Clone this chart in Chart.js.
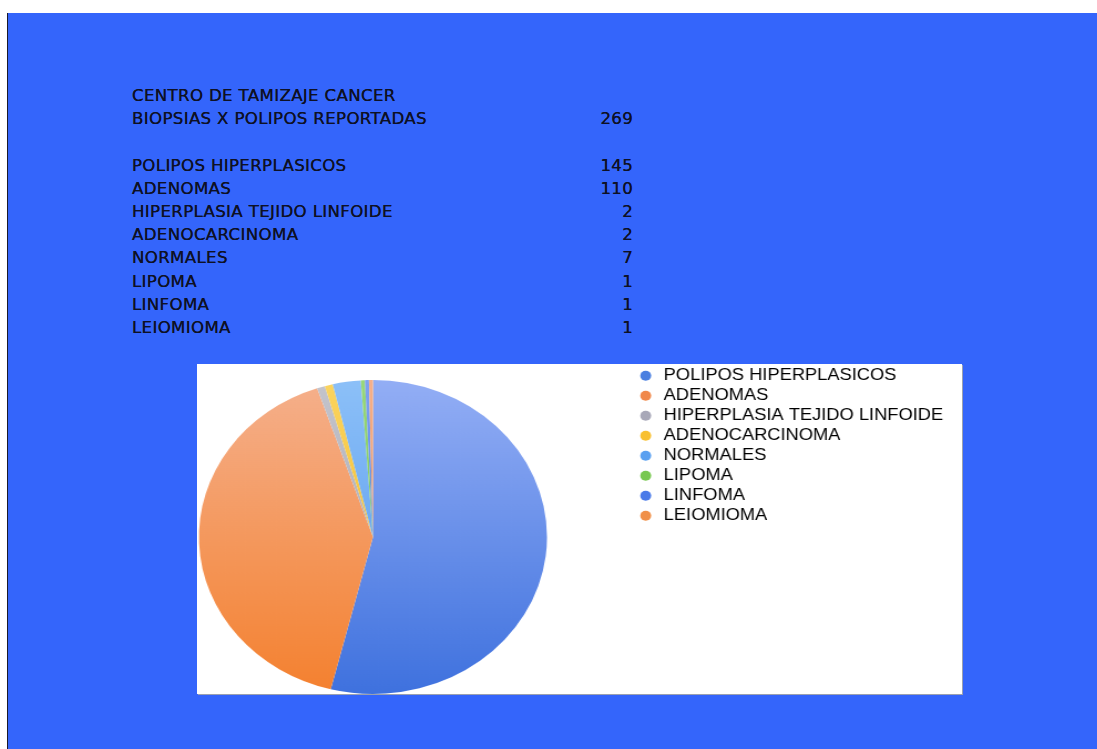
<!DOCTYPE html>
<html>
<head>
<meta charset="utf-8">
<script src="https://cdn.jsdelivr.net/npm/chart.js@4.4.1/dist/chart.umd.min.js"></script>
<style>
  html, body { margin: 0; padding: 0; background: #fff; }
  body { width: 1097px; height: 749px; position: relative; overflow: hidden; }
  #slide {
    position: absolute; left: 7px; top: 13px; right: 0; bottom: 0;
    background: #3465fb; border-left: 1px solid #1a1a2a;
  }
  #summary {
    position: absolute; left: 132px; top: 85px; width: 452px;
    transform: scaleX(1.1087); transform-origin: 0 0;
    font-family: "DejaVu Sans", sans-serif; font-size: 15px; letter-spacing: 0.3px;
    color: #0e1124; line-height: 23.2px; text-shadow: 0 0 0.6px #0e1124;
  }
  #summary .row { display: flex; justify-content: space-between; height: 23.2px; }
  #chartBox {
    position: absolute; left: 197px; top: 364px; width: 765px; height: 330px;
    background: #fff; box-shadow: 1px 1px 0 #9aa0b0;
  }
  #pieChart { position: absolute; left: -84.3px; top: 0; display: block; }
</style>
</head>
<body>
<div id="slide"></div>
<div id="summary"></div>
<div id="chartBox">
  <canvas id="pieChart" width="766" height="346" style="width: 849.3px; height: 346px;"></canvas>
</div>

<script>
// Biopsy results
const categories = [
  "POLIPOS HIPERPLASICOS",
  "ADENOMAS",
  "HIPERPLASIA TEJIDO LINFOIDE",
  "ADENOCARCINOMA",
  "NORMALES",
  "LIPOMA",
  "LINFOMA",
  "LEIOMIOMA",
];
const counts = [145, 110, 2, 2, 7, 1, 1, 1];

const titleLines = ["CENTRO DE TAMIZAJE CANCER", "BIOPSIAS X POLIPOS REPORTADAS"];

// slice colours: flat (legend) and light/dark ends of the shading
const sliceColors = ["#4a7fe0", "#f0884a", "#a8a8b8", "#f8c030", "#5aa0f0", "#78c850", "#4a7ae8", "#f09048"];
const sliceTop = ["#93aef5", "#f5b08c", "#c4c4cc", "#fbd460", "#8cc0f8", "#9ad87a", "#7ea2f0", "#f5b08c"];
const sliceBottom = ["#3a6edd", "#f47e2a", "#9c9ca8", "#f0b010", "#4a90ea", "#60b838", "#3a6edd", "#f47e2a"];

// summary table above the chart
const total = counts.reduce((a, b) => a + b, 0);
const summary = document.getElementById("summary");
function addRow(label, value) {
  const row = document.createElement("div");
  row.className = "row";
  const l = document.createElement("span");
  l.textContent = label;
  const v = document.createElement("span");
  v.textContent = value;
  row.appendChild(l);
  row.appendChild(v);
  summary.appendChild(row);
}
addRow(titleLines[0], "");
addRow(titleLines[1], total);
addRow("", "");
categories.forEach((c, i) => addRow(c, counts[i]));

// shaded fill for each slice, top to bottom
function sliceFill(context) {
  const i = context.dataIndex;
  const area = context.chart.chartArea;
  if (!area) return sliceColors[i];
  const g = context.chart.ctx.createLinearGradient(0, area.top + 16, 0, area.bottom);
  g.addColorStop(0, sliceTop[i]);
  g.addColorStop(1, sliceBottom[i]);
  return g;
}

const ctx = document.getElementById("pieChart").getContext("2d");
const chart = new Chart(ctx, {
  type: "pie",
  data: {
    labels: categories,
    datasets: [
      {
        data: counts,
        backgroundColor: sliceFill,
        borderWidth: 0,
        radius: 157,
      },
    ],
  },
  options: {
    responsive: false,
    animation: false,
    devicePixelRatio: 1,
    layout: {
      padding: { left: 0, right: 7, top: 0, bottom: 0 },
    },
    plugins: {
      tooltip: { enabled: false },
      legend: {
        position: "right",
        align: "start",
        labels: {
          usePointStyle: true,
          pointStyle: "circle",
          boxHeight: 7,
          boxWidth: 16,
          padding: 3.5,
          color: "#0c0c0c",
          font: { family: "'Liberation Sans', Arial, sans-serif", size: 16.5 },
          generateLabels: (chart) =>
            categories.map((c, i) => ({
              text: c,
              fillStyle: sliceColors[i],
              strokeStyle: sliceColors[i],
              lineWidth: 0,
              pointStyle: "circle",
              hidden: false,
              index: i,
            })),
        },
      },
    },
  },
});
</script>
</body>
</html>
